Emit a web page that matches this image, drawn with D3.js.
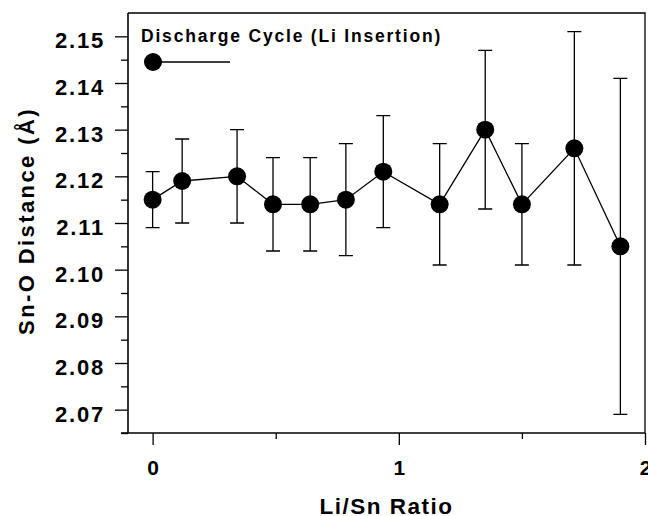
<!DOCTYPE html>
<html>
<head>
<meta charset="utf-8">
<script src="https://cdn.jsdelivr.net/npm/d3@7"></script>
<style>
  html, body { margin: 0; padding: 0; background: #fff; }
  text { font-family: "Liberation Sans", Arial, Helvetica, sans-serif; font-weight: bold; fill: #000; }
</style>
</head>
<body>
<div id="chart"></div>
<script>
// Sn-O Abstand beim Entladen (Li-Einlagerung)
const ratio = [0.0, 0.12, 0.343, 0.489, 0.640, 0.785, 0.937, 1.166, 1.351, 1.50, 1.713, 1.90];
const dist  = [2.115, 2.119, 2.120, 2.114, 2.114, 2.115, 2.121, 2.114, 2.130, 2.114, 2.126, 2.105];
const errHi = [2.121, 2.128, 2.130, 2.124, 2.124, 2.127, 2.133, 2.127, 2.147, 2.127, 2.151, 2.141];
const errLo = [2.109, 2.110, 2.110, 2.104, 2.104, 2.103, 2.109, 2.101, 2.113, 2.101, 2.101, 2.069];

const xMajor = [0, 1, 2];
const xMinor = [0.5, 1.5];
const yMajor = [2.07, 2.08, 2.09, 2.10, 2.11, 2.12, 2.13, 2.14, 2.15];
const yMinor = [2.065, 2.075, 2.085, 2.095, 2.105, 2.115, 2.125, 2.135, 2.145];

const W = 648, H = 516;
const M = { top: 13, right: 3, bottom: 83, left: 128 };

const svg = d3.select("#chart").append("svg")
  .attr("width", W)
  .attr("height", H);

// Skalen
const x = d3.scaleLinear().domain([-0.1, 2.0]).range([M.left, W - M.right]);
const y = d3.scaleLinear().domain([2.065, 2.155]).range([H - M.bottom, M.top]);

const data = ratio.map((r, i) => ({ r, d: dist[i], hi: errHi[i], lo: errLo[i] }));

// Rahmen oben/rechts
svg.append("path")
  .attr("d", `M${x(-0.1)},${y(2.155)}H${x(2.0)}V${y(2.065)}`)
  .attr("fill", "none")
  .attr("stroke", "#000")
  .attr("stroke-width", 1.3);

// X-Achse
const gx = svg.append("g").attr("transform", `translate(0,${y(2.065)})`);
gx.call(d3.axisBottom(x).tickValues(xMajor).tickSize(12).tickPadding(15).tickFormat(d3.format("d")));
gx.select(".domain").attr("d", `M${x(-0.1) - 7},0H${x(2.0)}`).attr("stroke-width", 1.6);
gx.selectAll(".tick line").attr("stroke-width", 1.3);
gx.selectAll(".tick text")
  .style("font-size", "21px")
  .style("font-family", "'Liberation Sans', Arial, sans-serif")
  .style("font-weight", "bold")
  .attr("fill", "#000");

const gxm = svg.append("g").attr("transform", `translate(0,${y(2.065)})`);
gxm.call(d3.axisBottom(x).tickValues(xMinor).tickSize(6).tickFormat(""));
gxm.select(".domain").remove();
gxm.selectAll(".tick line").attr("stroke-width", 1.3);

// Y-Achse
const gy = svg.append("g").attr("transform", `translate(${x(-0.1)},0)`);
gy.call(d3.axisLeft(y).tickValues(yMajor).tickSize(13).tickPadding(10).tickFormat(d3.format(".2f")));
gy.select(".domain").attr("d", `M0,${y(2.065)}V${y(2.155)}`).attr("stroke-width", 1.6);
gy.selectAll(".tick line").attr("stroke-width", 1.3);
gy.selectAll(".tick text")
  .attr("dy", "0.52em")
  .style("font-size", "22px")
  .style("letter-spacing", "1.8px")
  .style("font-family", "'Liberation Sans', Arial, sans-serif")
  .style("font-weight", "bold")
  .attr("fill", "#000");

const gym = svg.append("g").attr("transform", `translate(${x(-0.1)},0)`);
gym.call(d3.axisLeft(y).tickValues(yMinor).tickSize(7).tickFormat(""));
gym.select(".domain").remove();
gym.selectAll(".tick line").attr("stroke-width", 1.3);

// Achsentitel
svg.append("text")
  .attr("x", (x(-0.1) + x(2.0)) / 2)
  .attr("y", 514)
  .attr("text-anchor", "middle")
  .style("font-size", "22.5px")
  .style("letter-spacing", "1.5px")
  .text("Li/Sn Ratio");

svg.append("text")
  .attr("transform", `translate(33.5,${(y(2.065) + y(2.155)) / 2 - 2}) rotate(-90)`)
  .attr("text-anchor", "middle")
  .style("font-size", "22px")
  .style("letter-spacing", "2.4px")
  .text("Sn-O Distance (Å)");

// Fehlerbalken
const cap = 7;
const gErr = svg.append("g").attr("stroke", "#000").attr("stroke-width", 1.3).attr("fill", "none");
gErr.selectAll("path")
  .data(data)
  .join("path")
  .attr("d", d => `M${x(d.r)},${y(d.lo)}V${y(d.hi)}` +
    `M${x(d.r) - cap},${y(d.hi)}H${x(d.r) + cap}` +
    `M${x(d.r) - cap},${y(d.lo)}H${x(d.r) + cap}`);

// Linie
svg.append("path")
  .datum(data)
  .attr("fill", "none")
  .attr("stroke", "#000")
  .attr("stroke-width", 1.3)
  .attr("d", d3.line().x(d => x(d.r)).y(d => y(d.d)));

// Punkte
svg.append("g").selectAll("circle")
  .data(data)
  .join("circle")
  .attr("cx", d => x(d.r))
  .attr("cy", d => y(d.d))
  .attr("r", 9)
  .attr("fill", "#000");

// Legende
const lg = svg.append("g");
lg.append("text")
  .attr("x", 141)
  .attr("y", 42)
  .style("font-size", "17.5px")
  .style("letter-spacing", "1.8px")
  .text("Discharge Cycle (Li Insertion)");
lg.append("line")
  .attr("x1", 153).attr("x2", 230)
  .attr("y1", 62).attr("y2", 62)
  .attr("stroke", "#000")
  .attr("stroke-width", 1.3);
lg.append("circle")
  .attr("cx", 153).attr("cy", 62).attr("r", 9)
  .attr("fill", "#000");
</script>
</body>
</html>
